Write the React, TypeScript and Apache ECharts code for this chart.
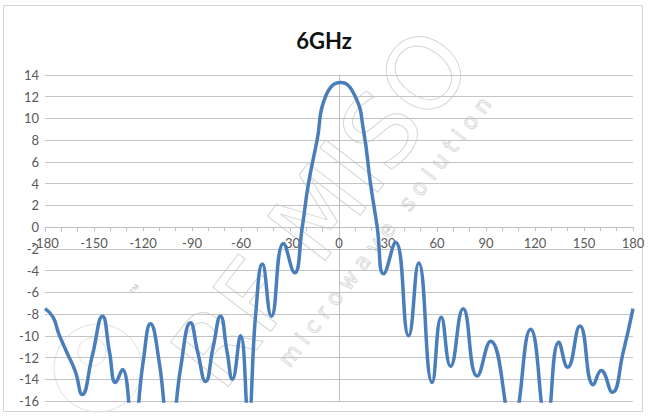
import React, { useEffect, useRef } from "react";
import * as echarts from "echarts";

const titleText = "6GHz";
const xTicks = [-180, -150, -120, -90, -60, -30, 0, 30, 60, 90, 120, 150, 180];
const yTicks = [-16, -14, -12, -10, -8, -6, -4, -2, 0, 2, 4, 6, 8, 10, 12, 14];

const angles = [
  -180, -175, -171.6, -166.4, -161.4, -157.3, -151, -144.8, -140.5, -136.8, -132.6, -126,
  -120, -115.4, -110, -103.5, -97, -90.9, -86.5, -81.7, -77, -72.6, -68.5, -65.3, -60.3,
  -55.5, -51, -46.9, -41.4, -34, -27.2, -22.5, -18.7, -13.4, -8.3, 1, 10, 15, 19.3, 23.4,
  27.3, 34.6, 42.6, 48.8, 57, 62.6, 68.3, 76, 84.6, 92.8, 106, 117.3, 127, 134.6, 140,
  147.5, 155.7, 160.5, 167.3, 174, 180,
];
const gains = [
  -7.5, -8.3, -9.8, -11.6, -13.3, -15.4, -11.8, -8.2, -11.5, -14.3, -13.1, -19,
  -12.5, -8.9, -12.5, -20, -13, -8.8, -11.5, -14.2, -11, -8.2, -11.5, -14, -10,
  -17.5, -8, -3.4, -8.2, -1.5, -4.2, 0, 4, 8, 12, 13.3, 12, 8.9, 4, 0,
  -4.3, -1.4, -10, -3.3, -14.3, -8.3, -12.8, -7.5, -13.7, -10.5, -18, -9.4, -18, -10.6, -12.9,
  -9.1, -14.5, -13.2, -15.2, -11.5, -7.5,
];

const GRID_TOP = 75;
const GRID_BOTTOM = 16;
const H = 417;

export default function App() {
  const ref = useRef<HTMLDivElement>(null);
  useEffect(() => {
    if (!ref.current) return;
    const chart = echarts.init(ref.current, null, { renderer: "svg" });
    const data = angles.map((a, i) => [a, gains[i]]);
    const rot = (52.5 * Math.PI) / 180;
    const yMin = yTicks[0];
    const yMax = yTicks[yTicks.length - 1];
    const plotH = H - GRID_TOP - GRID_BOTTOM;
    const zeroOffset = -(plotH * (0 - yMin)) / (yMax - yMin);
    chart.setOption({
      animation: false,
      backgroundColor: "#ffffff",
      title: {
        text: titleText,
        left: "center",
        top: 24,
        textStyle: { fontFamily: "Lato", fontWeight: "bold", fontSize: 22, color: "#111" },
      },
      graphic: [
        {
          type: "rect",
          z: -10,
          shape: { x: 3.5, y: 5.5, width: 639, height: 406 },
          style: { fill: "none", stroke: "#d4d4d4", lineWidth: 1 },
        },
        {
          type: "text",
          z: 0,
          x: 322,
          y: 208,
          rotation: rot,
          style: {
            text: "RF MISO",
            fontSize: 100,
            fontFamily: "DejaVu Sans",
            fill: "none",
            stroke: "#d6d6d6",
            lineWidth: 1,
            align: "center",
            verticalAlign: "middle",
          },
        },
        {
          type: "text",
          z: 0,
          x: 385,
          y: 232,
          rotation: rot,
          style: {
            text: "m i c r o w a v e   s o l u t i o n",
            fontSize: 22,
            fontFamily: "DejaVu Sans",
            fill: "none",
            stroke: "#dadada",
            lineWidth: 1,
            align: "center",
            verticalAlign: "middle",
          },
        },
        {
          type: "text",
          z: 0,
          x: 136,
          y: 290,
          rotation: rot,
          style: { text: "™", fontSize: 12, fill: "#c8c8c8", align: "center", verticalAlign: "middle" },
        },
        {
          type: "circle",
          z: 0,
          shape: { cx: 98, cy: 368, r: 44 },
          style: { fill: "none", stroke: "#e0e0e0", lineWidth: 1 },
        },
        {
          type: "circle",
          z: 0,
          shape: { cx: 92, cy: 352, r: 14 },
          style: { fill: "none", stroke: "#e0e0e0", lineWidth: 1 },
        },
      ],
      grid: { left: 45, right: 15, top: GRID_TOP, bottom: GRID_BOTTOM, containLabel: false },
      xAxis: {
        type: "value",
        min: xTicks[0],
        max: xTicks[xTicks.length - 1],
        interval: 30,
        position: "bottom",
        offset: zeroOffset,
        axisLine: { show: true, onZero: false, lineStyle: { color: "#bfbfbf", width: 1 } },
        axisTick: { show: true, length: 4, lineStyle: { color: "#bfbfbf" } },
        minorTick: { show: true, splitNumber: 3, length: 4, lineStyle: { color: "#bfbfbf" } },
        splitLine: { show: false },
        axisLabel: { color: "#595959", fontSize: 13, fontFamily: "Lato", margin: 9 },
      },
      yAxis: {
        type: "value",
        min: yMin,
        max: yMax,
        interval: 2,
        axisLine: { show: true, lineStyle: { color: "#bfbfbf", width: 1 } },
        axisTick: { show: true, length: 4, lineStyle: { color: "#bfbfbf" } },
        splitLine: { show: true, lineStyle: { color: "#c4c4c4", width: 1 } },
        axisLabel: { color: "#595959", fontSize: 13, fontFamily: "Lato", margin: 6 },
      },
      series: [
        {
          type: "line",
          data,
          smooth: 0.5,
          showSymbol: false,
          symbol: "none",
          clip: true,
          z: 5,
          lineStyle: { color: "#4a7ebb", width: 3.5 },
        },
      ],
    });
    return () => chart.dispose();
  }, []);
  return (
    <div
      ref={ref}
      style={{ position: "absolute", left: 0, top: 0, width: 648, height: 417 }}
    />
  );
}
